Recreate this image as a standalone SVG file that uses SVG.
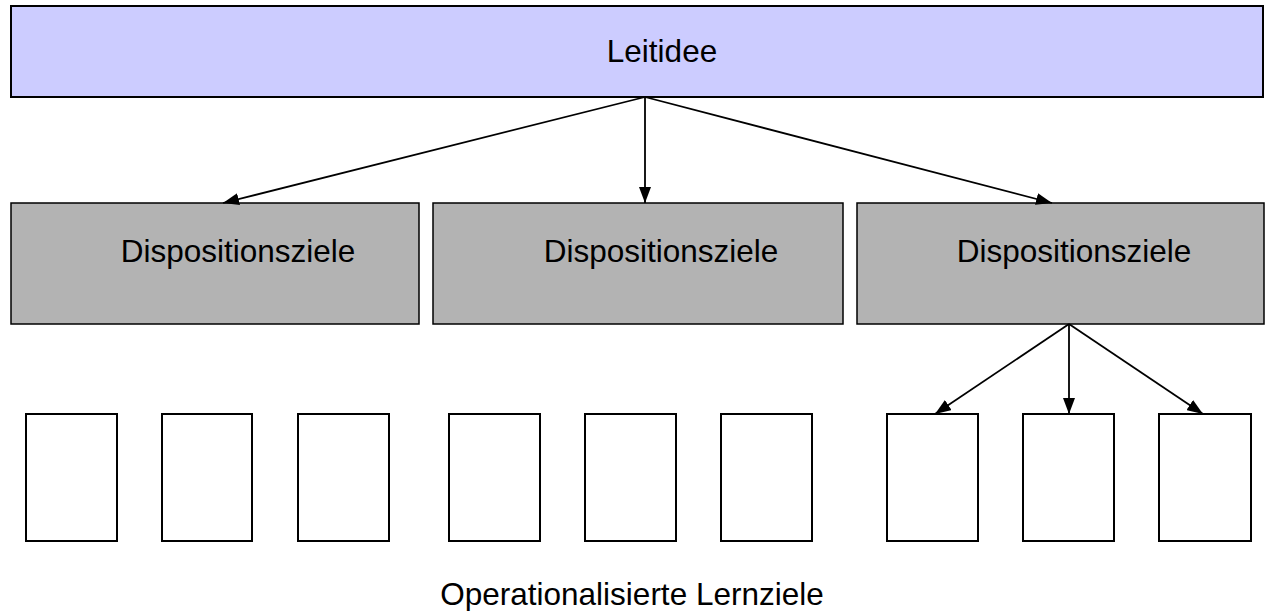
<svg xmlns="http://www.w3.org/2000/svg" width="1265" height="611" viewBox="0 0 1265 611">
  <style>
    .lbl { font-family: "Liberation Sans", Arial, sans-serif; font-size: 31.5px; fill: #000; text-anchor: middle; }
    .top { fill: #CCCCFF; stroke: #000; stroke-width: 2; }
    .disp { fill: #B3B3B3; stroke: #000; stroke-width: 1.5; }
    .leaf { fill: #FFFFFF; stroke: #000; stroke-width: 2; }
    .edge { stroke: #000; stroke-width: 1.8; fill: none; marker-end: url(#arrow); }
  </style>
  <defs>
    <marker id="arrow" viewBox="0 0 16 12" refX="16" refY="6" markerWidth="16" markerHeight="12" markerUnits="userSpaceOnUse" orient="auto">
      <path d="M0,0 L16,6 L0,12 Z" fill="#000"/>
    </marker>
  </defs>

  <!-- top level idea -->
  <g id="leitidee">
    <rect class="top" x="11" y="6" width="1252" height="91"/>
    <text class="lbl" x="662" y="62">Leitidee</text>
  </g>

  <!-- disposition goals -->
  <g id="disp1">
    <rect class="disp" x="11" y="203" width="408" height="121"/>
    <text class="lbl" x="238" y="262">Dispositionsziele</text>
  </g>
  <g id="disp2">
    <rect class="disp" x="433" y="203" width="410" height="121"/>
    <text class="lbl" x="661" y="262">Dispositionsziele</text>
  </g>
  <g id="disp3">
    <rect class="disp" x="857" y="203" width="407" height="121"/>
    <text class="lbl" x="1074" y="262">Dispositionsziele</text>
  </g>

  <!-- operationalised learning goals -->
  <g id="leaf1"><rect class="leaf" x="26" y="414" width="91" height="127"/></g>
  <g id="leaf2"><rect class="leaf" x="162" y="414" width="90" height="127"/></g>
  <g id="leaf3"><rect class="leaf" x="298" y="414" width="91" height="127"/></g>
  <g id="leaf4"><rect class="leaf" x="449" y="414" width="91" height="127"/></g>
  <g id="leaf5"><rect class="leaf" x="585" y="414" width="91" height="127"/></g>
  <g id="leaf6"><rect class="leaf" x="721" y="414" width="91" height="127"/></g>
  <g id="leaf7"><rect class="leaf" x="887" y="414" width="91" height="127"/></g>
  <g id="leaf8"><rect class="leaf" x="1023" y="414" width="91" height="127"/></g>
  <g id="leaf9"><rect class="leaf" x="1159" y="414" width="92" height="127"/></g>

  <g id="caption">
    <text class="lbl" x="632" y="605">Operationalisierte Lernziele</text>
  </g>

  <!-- connectors -->
  <g id="connectors">
    <line class="edge" x1="645" y1="97" x2="223" y2="203"/>
    <line class="edge" x1="645" y1="97" x2="645" y2="203"/>
    <line class="edge" x1="645" y1="97" x2="1052" y2="203"/>
    <line class="edge" x1="1069" y1="324" x2="935" y2="414"/>
    <line class="edge" x1="1069" y1="324" x2="1069" y2="414"/>
    <line class="edge" x1="1069" y1="324" x2="1203" y2="414"/>
  </g>
</svg>
